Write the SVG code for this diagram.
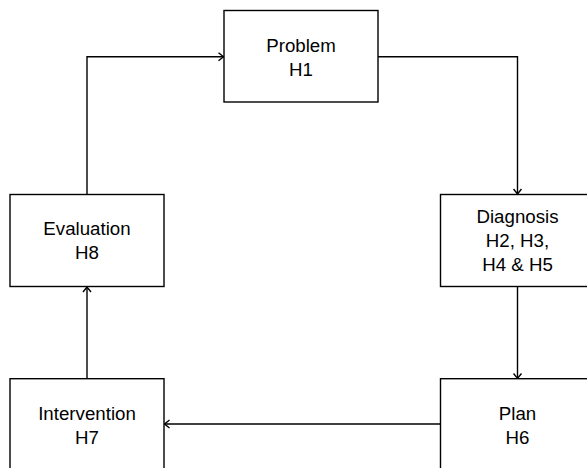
<svg xmlns="http://www.w3.org/2000/svg" width="587" height="468" viewBox="0 0 587 468">
<style>
.box{fill:#fff;stroke:#000;stroke-width:1.4}
.lbl{font-family:"Liberation Sans",Arial,sans-serif;font-size:18.7px;fill:#000;text-anchor:middle}
.con{fill:none;stroke:#000;stroke-width:1.4}
</style>
<defs>
<marker id="arr" viewBox="0 0 10 10" refX="9" refY="5" markerWidth="10" markerHeight="10" markerUnits="userSpaceOnUse" orient="auto">
<path d="M4,1 L9,5 L4,9" fill="none" stroke="#000" stroke-width="1.4"/>
</marker>
</defs>
<rect width="587" height="468" fill="#fff"/>
<g id="connectors">
<path class="con" d="M87,194 V56.7 H223.5" marker-end="url(#arr)"/>
<path class="con" d="M378,56.7 H517.5 V194" marker-end="url(#arr)"/>
<path class="con" d="M517.5,287 V378.5" marker-end="url(#arr)"/>
<path class="con" d="M440,424 H164.5" marker-end="url(#arr)"/>
<path class="con" d="M87,378.7 V287" marker-end="url(#arr)"/>
</g>
<g id="problem">
<rect class="box" x="224" y="10.5" width="154" height="91.5"/>
<text class="lbl" x="301" y="51.7">Problem</text>
<text class="lbl" x="301" y="76">H1</text>
</g>
<g id="diagnosis">
<rect class="box" x="440.5" y="194.5" width="154" height="92"/>
<text class="lbl" x="517.5" y="223.3">Diagnosis</text>
<text class="lbl" x="517.5" y="247.3">H2, H3,</text>
<text class="lbl" x="517.5" y="271">H4 &amp; H5</text>
</g>
<g id="plan">
<rect class="box" x="440.5" y="378.7" width="154" height="92"/>
<text class="lbl" x="517.5" y="419.5">Plan</text>
<text class="lbl" x="517.5" y="444">H6</text>
</g>
<g id="intervention">
<rect class="box" x="10" y="378.7" width="154" height="92"/>
<text class="lbl" x="87" y="419.5">Intervention</text>
<text class="lbl" x="87" y="444">H7</text>
</g>
<g id="evaluation">
<rect class="box" x="10" y="194.5" width="154" height="92"/>
<text class="lbl" x="87" y="235">Evaluation</text>
<text class="lbl" x="87" y="259">H8</text>
</g>
</svg>
